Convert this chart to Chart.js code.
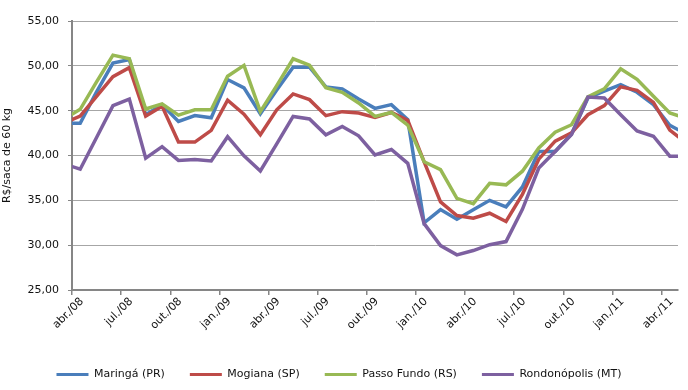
<!DOCTYPE html>
<html>
<head>
<meta charset="utf-8">
<script src="https://cdn.jsdelivr.net/npm/chart.js@4"></script>
<style>
  html, body { margin: 0; padding: 0; background: #fff; }
  #wrap { width: 688px; height: 390px; position: relative; }
</style>
</head>
<body>
<div id="wrap"><canvas id="chart"></canvas></div>
<script>
// monthly prices, mar./08 .. mai./11 (first and last month fall just outside the axis)
const months = ['mar./08', 'abr./08', 'mai./08', 'jun./08', 'jul./08', 'ago./08', 'set./08', 'out./08', 'nov./08', 'dez./08',
  'jan./09', 'fev./09', 'mar./09', 'abr./09', 'mai./09', 'jun./09', 'jul./09', 'ago./09', 'set./09', 'out./09', 'nov./09', 'dez./09',
  'jan./10', 'fev./10', 'mar./10', 'abr./10', 'mai./10', 'jun./10', 'jul./10', 'ago./10', 'set./10', 'out./10', 'nov./10', 'dez./10',
  'jan./11', 'fev./11', 'mar./11', 'abr./11', 'mai./11'];

const maringa = [43.6, 43.6, 47.1, 50.3, 50.7, 44.55, 45.67, 43.8, 44.46, 44.2,
  48.47, 47.54, 44.65, 47.3, 49.85, 49.85, 47.65, 47.43, 46.3, 45.26, 45.67, 44.0,
  32.5, 33.97, 32.9, 33.95, 35.0, 34.26, 36.49, 40.45, 40.45, 42.4, 46.42, 47.17,
  47.91, 47.05, 45.67, 43.37, 42.4];
const mogiana = [43.6, 44.4, 46.6, 48.8, 49.8, 44.39, 45.5, 41.5, 41.5, 42.81,
  46.17, 44.6, 42.32, 45.1, 46.87, 46.23, 44.44, 44.89, 44.74, 44.25, 44.8, 43.92,
  39.3, 34.83, 33.3, 33.0, 33.56, 32.64, 35.67, 39.59, 41.6, 42.54, 44.55, 45.56,
  47.65, 47.27, 45.93, 42.84, 41.4];
const passoFundo = [44.05, 45.15, 48.2, 51.19, 50.79, 45.19, 45.75, 44.5, 45.1, 45.1,
  48.84, 50.05, 44.9, 47.8, 50.79, 50.07, 47.55, 47.05, 45.86, 44.36, 44.8, 43.4,
  39.3, 38.43, 35.22, 34.63, 36.9, 36.73, 38.25, 40.85, 42.6, 43.43, 46.53, 47.43,
  49.67, 48.5, 46.6, 44.74, 44.14];
const rondonopolis = [39.07, 38.47, 42.0, 45.56, 46.3, 39.7, 40.99, 39.45, 39.55, 39.4,
  42.1, 39.96, 38.28, 41.3, 44.36, 44.07, 42.31, 43.24, 42.2, 40.07, 40.67, 39.13,
  32.4, 29.95, 28.92, 29.4, 30.05, 30.4, 34.0, 38.6, 40.45, 42.35, 46.53, 46.42,
  44.55, 42.74, 42.15, 39.93, 39.93];

const tickLabels = ['abr./08', 'jul./08', 'out./08', 'jan./09', 'abr./09', 'jul./09', 'out./09',
  'jan./10', 'abr./10', 'jul./10', 'out./10', 'jan./11', 'abr./11'];

const seriesNames = ['Maringá (PR)', 'Mogiana (SP)', 'Passo Fundo (RS)', 'Rondonópolis (MT)'];
const seriesColors = ['#4a7ebb', '#be4b48', '#98b954', '#7d60a0'];
const seriesData = [maringa, mogiana, passoFundo, rondonopolis];

const font = { family: 'DejaVu Sans', size: 11 };

// x value 0 = abr./08 (months[1]); each category is one unit wide
const toPoints = vals => vals.map((v, i) => ({ x: i - 1, y: v }));

const datasets = seriesData.map((vals, i) => ({
  label: seriesNames[i],
  data: toPoints(vals),
  borderColor: seriesColors[i],
  backgroundColor: seriesColors[i],
  borderWidth: 3.5,
  pointRadius: 0,
  tension: 0,
  clip: 0,
  order: seriesData.length - i
}));

new Chart(document.getElementById('chart'), {
  type: 'line',
  data: { datasets },
  options: {
    responsive: true,
    maintainAspectRatio: false,
    animation: false,
    layout: { padding: { top: 21, right: 10, left: 0, bottom: 0 } },
    plugins: {
      tooltip: { enabled: false },
      legend: {
        position: 'bottom',
        labels: {
          font,
          color: '#111',
          boxWidth: 32,
          boxHeight: 3,
          padding: 25,
          sort: (a, b) => a.datasetIndex - b.datasetIndex,
          generateLabels: chart => {
            const items = Chart.defaults.plugins.legend.labels.generateLabels(chart);
            items.forEach(it => { it.lineWidth = 0; });
            return items;
          }
        }
      }
    },
    scales: {
      x: {
        type: 'linear',
        min: -0.5,
        max: months.length - 2.5,
        afterBuildTicks: scale => {
          scale.ticks = tickLabels.map((t, i) => ({ value: i * 3 - 0.5 }));
        },
        afterFit: scale => { scale.height = 54; },
        ticks: {
          autoSkip: false,
          minRotation: 45,
          maxRotation: 45,
          padding: 0,
          labelOffset: 10,
          font,
          color: '#111',
          callback: (v, i) => tickLabels[i]
        },
        grid: {
          display: true,
          drawOnChartArea: false,
          drawTicks: true,
          tickLength: 5,
          color: '#868686',
          lineWidth: 1.5
        },
        border: { display: true, color: '#868686', width: 2 }
      },
      y: {
        min: 25,
        max: 55,
        afterFit: scale => { scale.width = 72; },
        ticks: {
          stepSize: 5,
          padding: 9,
          font,
          color: '#111',
          callback: v => v.toFixed(2).replace('.', ',')
        },
        grid: {
          color: '#a6a6a6',
          lineWidth: 1,
          tickLength: 4,
          tickColor: '#868686'
        },
        border: { display: true, color: '#868686', width: 2 },
        title: {
          display: true,
          text: 'R$/saca de 60 kg',
          font,
          color: '#111',
          padding: { top: 1, bottom: 0 }
        }
      }
    }
  }
});
</script>
</body>
</html>
